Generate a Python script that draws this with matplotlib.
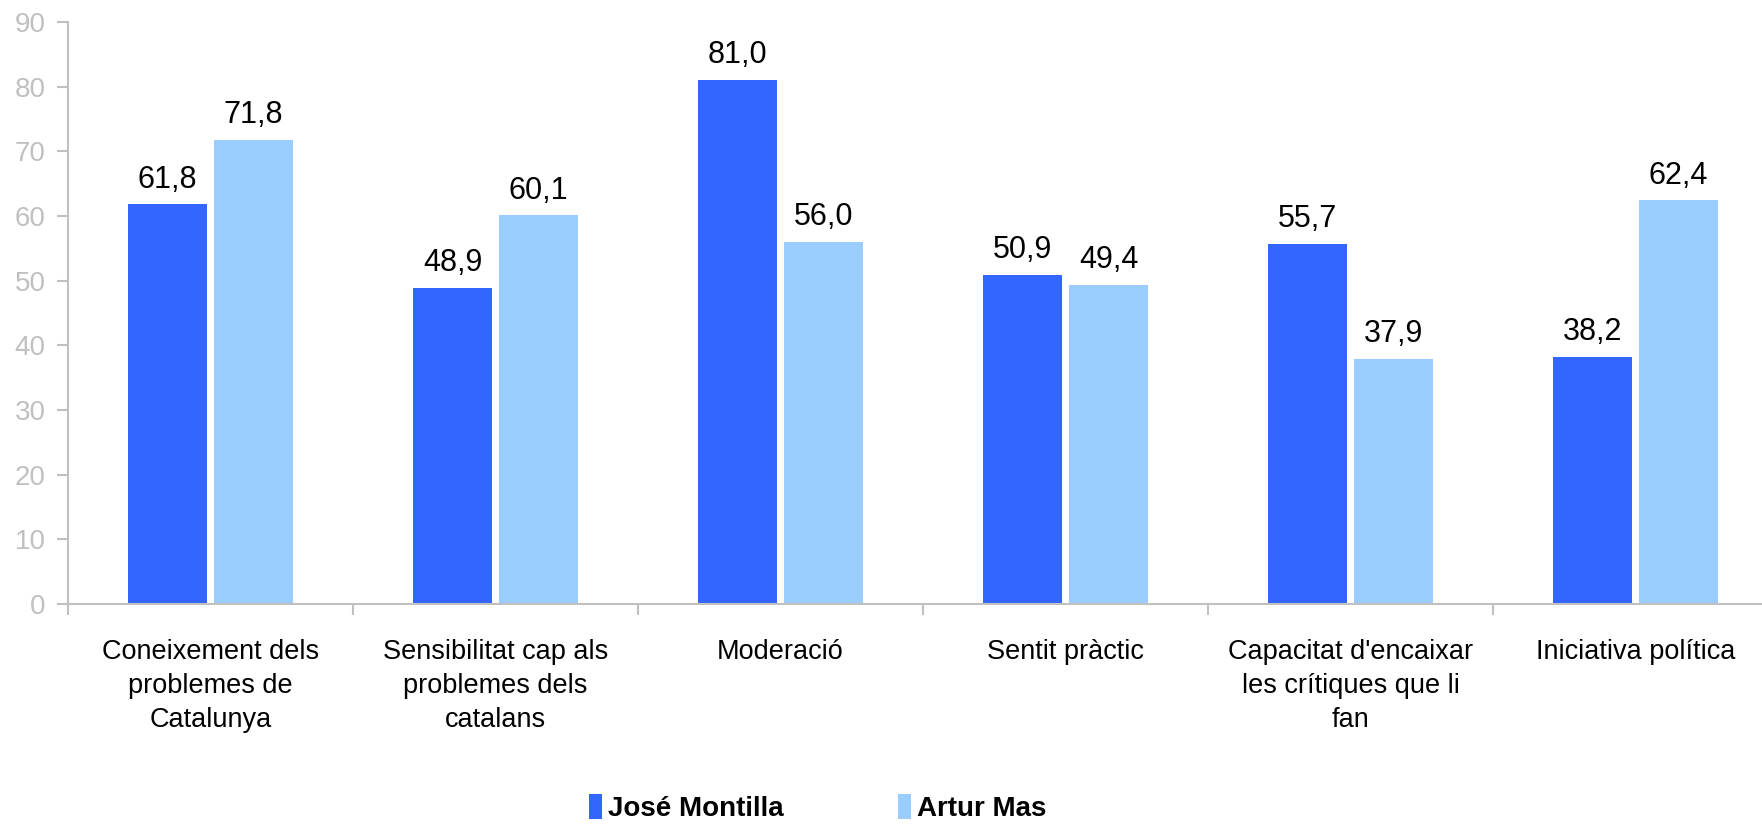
import matplotlib.pyplot as plt
import numpy as np

categories = ["Coneixement dels\nproblemes de\nCatalunya",
              "Sensibilitat cap als\nproblemes dels\ncatalans",
              "Moderació",
              "Sentit pràctic",
              "Capacitat d'encaixar\nles crítiques que li\nfan",
              "Iniciativa política"]
montilla = [61.8, 48.9, 81.0, 50.9, 55.7, 38.2]
mas = [71.8, 60.1, 56.0, 49.4, 37.9, 62.4]
series_names = ["José Montilla", "Artur Mas"]

plt.rcParams['font.family'] = ['Liberation Sans', 'DejaVu Sans']
grey = "#c0c0c0"

fig = plt.figure(figsize=(17.62, 8.24), dpi=100)
ax = fig.add_axes([68 / 1762, 1 - 604 / 824, 1710 / 1762, 582 / 824])

x = np.arange(len(categories))
w = 0.28
gap = 0.022
b1 = ax.bar(x - w / 2 - gap / 2, montilla, w, color="#3366FF", label=series_names[0])
b2 = ax.bar(x + w / 2 + gap / 2, mas, w, color="#99CCFF", label=series_names[1])

for bars, vals in ((b1, montilla), (b2, mas)):
    for r, v in zip(bars, vals):
        ax.annotate(f"{v:.1f}".replace(".", ","), (r.get_x() + r.get_width() / 2, v),
                    xytext=(0, 7), textcoords="offset points",
                    ha="center", va="bottom", fontsize=22)

ax.set_xlim(-0.5, len(categories) - 0.5)
ax.set_ylim(0, 90)
ax.set_yticks(range(0, 91, 10))
ax.set_xticks(np.arange(len(categories) + 1) - 0.5)
ax.set_xticklabels([])
ax.set_xticks(x, minor=True)
ax.set_xticklabels(categories, minor=True, fontsize=19.5, linespacing=1.4)
ax.tick_params(axis="x", which="minor", length=0, pad=25)
ax.tick_params(axis="x", which="major", length=8, width=1.5, color=grey, direction="out")
ax.tick_params(axis="y", length=8, width=1.5, color=grey, labelcolor=grey, labelsize=20, pad=8)

for s in ("top", "right"):
    ax.spines[s].set_visible(False)
for s in ("left", "bottom"):
    ax.spines[s].set_color(grey)
    ax.spines[s].set_linewidth(1.5)

fig.legend(handles=[b1, b2], loc="center left", bbox_to_anchor=(589 / 1762, 1 - 808 / 824), ncol=2,
           frameon=False, borderpad=0, borderaxespad=0,
           handlelength=0.47, handleheight=1.0, handletextpad=0.22,
           columnspacing=4.1,
           prop={"family": ["Liberation Sans Narrow", "Liberation Sans"], "weight": "bold", "size": 20})

fig.savefig("out.png", dpi=100)
